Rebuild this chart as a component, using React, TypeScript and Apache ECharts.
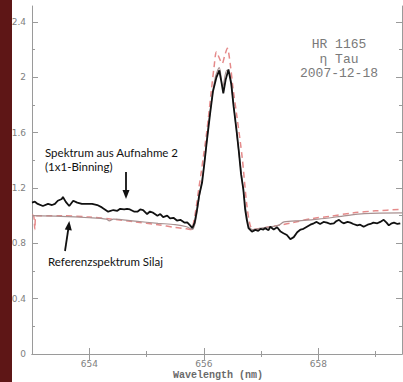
import React, { useEffect, useRef } from "react";
import * as echarts from "echarts";

// Observed spectrum (Spektrum aus Aufnahme 2)
const obsWavelength = [
  653.0, 653.05, 653.1, 653.19, 653.28, 653.35, 653.4, 653.45, 653.52, 653.54, 653.59, 653.65, 653.72, 653.79,
  653.87, 653.96, 654.05, 654.14, 654.22, 654.33, 654.42, 654.49, 654.54, 654.61, 654.66, 654.71, 654.78, 654.84,
  654.89, 654.94, 655.01, 655.06, 655.12, 655.19, 655.24, 655.29, 655.36, 655.41, 655.47, 655.53, 655.59, 655.66,
  655.71, 655.76, 655.8, 655.84, 655.88, 655.92, 655.97, 656.01, 656.05, 656.11, 656.16, 656.22, 656.27, 656.31,
  656.34, 656.38, 656.43, 656.48, 656.52, 656.57, 656.61, 656.65, 656.69, 656.72, 656.75, 656.78, 656.84, 656.9,
  656.95, 656.99, 657.04, 657.07, 657.13, 657.16, 657.22, 657.28, 657.34, 657.39, 657.45, 657.51, 657.57, 657.63,
  657.69, 657.74, 657.8, 657.86, 657.92, 657.97, 658.03, 658.09, 658.15, 658.21, 658.27, 658.31, 658.36, 658.4,
  658.44, 658.51, 658.56, 658.61, 658.68, 658.73, 658.79, 658.86, 658.91, 658.96, 659.03, 659.08, 659.14, 659.19,
  659.23, 659.28, 659.32, 659.38, 659.43,
];
const obsFlux = [
  1.094, 1.101, 1.085, 1.07, 1.085, 1.077, 1.085, 1.108, 1.121, 1.135, 1.1, 1.07, 1.108, 1.094,
  1.085, 1.085, 1.085, 1.077, 1.06, 1.029, 1.041, 1.035, 1.05, 1.045, 1.05, 1.045, 1.03, 1.029,
  1.045, 1.041, 1.012, 1.03, 1.02, 1.0, 1.012, 0.99, 1.0, 0.98, 0.985, 0.965, 0.97, 0.95,
  0.952, 0.93, 0.91, 0.95, 1.04, 1.15, 1.24, 1.38, 1.53, 1.74, 1.9, 2.0, 2.05, 1.96,
  1.885, 1.98, 2.057, 1.95, 1.79, 1.62, 1.47, 1.3, 1.19, 1.05, 0.97, 0.91, 0.885, 0.897,
  0.89, 0.905, 0.9, 0.91, 0.895, 0.92, 0.9, 0.916, 0.885, 0.873, 0.86, 0.83, 0.845, 0.88,
  0.9, 0.905, 0.92, 0.935, 0.945, 0.955, 0.94, 0.955, 0.95, 0.94, 0.945, 0.96, 0.97, 0.955,
  0.945, 0.955, 0.95, 0.94, 0.93, 0.935, 0.92, 0.935, 0.94, 0.95, 0.945, 0.955, 0.97, 0.95,
  0.93, 0.945, 0.95, 0.94, 0.945,
];

// Reference spectrum (Referenzspektrum Silaj), dashed
const refWavelength = [
  653.0, 653.03, 653.05, 653.07, 653.5, 654.0, 654.4, 654.8, 655.2, 655.5, 655.7, 655.78, 655.83, 655.87,
  655.91, 655.95, 655.99, 656.04, 656.08, 656.13, 656.18, 656.22, 656.27, 656.32, 656.36, 656.41, 656.46,
  656.51, 656.58, 656.67, 656.75, 656.81, 656.87, 656.95, 657.3, 657.5, 657.9, 658.2, 658.6, 659.0, 659.46,
];
const refFlux = [
  1.005, 1.0, 0.9, 1.0, 1.0, 0.99, 0.975, 0.955, 0.935, 0.915, 0.905, 0.9, 0.97, 1.07,
  1.19, 1.3, 1.42, 1.57, 1.71, 1.9, 2.08, 2.186, 2.14, 2.1, 2.15, 2.21, 2.1,
  1.92, 1.71, 1.42, 1.08, 0.93, 0.9, 0.905, 0.93, 0.945, 0.98, 0.995, 1.02, 1.035, 1.046,
];

// Smoothed reference (solid grey)
const smoothWavelength = [
  653.0, 653.5, 654.0, 654.3, 654.35, 654.42, 654.8, 655.2, 655.5, 655.7, 655.8, 655.85, 655.9, 656.0,
  656.1, 656.2, 656.27, 656.33, 656.4, 656.45, 656.52, 656.6, 656.7, 656.78, 656.85, 657.0, 657.3, 657.4,
  657.7, 658.0, 658.4, 658.8, 659.46,
];
const smoothFlux = [
  1.0, 0.995, 0.985, 0.975, 0.962, 0.975, 0.96, 0.945, 0.935, 0.92, 0.9, 0.95, 1.08, 1.35,
  1.72, 2.0, 2.07, 1.93, 2.05, 2.03, 1.8, 1.5, 1.15, 0.93, 0.9, 0.91, 0.93, 0.955,
  0.964, 0.975, 0.995, 1.015, 1.02,
];

const xMajor = [654, 656, 658];
const xMinor = [655, 657, 659];
const yMajor = [0, 0.4, 0.8, 1.2, 1.6, 2, 2.4];
const yMinor = [0.2, 0.6, 1.0, 1.4, 1.8, 2.2];

const zip = (a: number[], b: number[]) => a.map((v, i) => [v, b[i]]);

const AXIS_COLOR = "#9a9a9a";

export default function App() {
  const ref = useRef<HTMLDivElement>(null);
  useEffect(() => {
    const chart = echarts.init(ref.current!, null, { renderer: "svg" });
    const xBase = { type: "value", min: 653, max: 659.46, splitLine: { show: false } };
    const yBase = { type: "value", min: 0, max: 2.516, splitLine: { show: false } };
    const line = { show: true, lineStyle: { color: AXIS_COLOR, width: 1 } };
    const tick = (vals: number[], len: number) => ({
      show: true,
      inside: true,
      length: len,
      customValues: vals,
      lineStyle: { color: AXIS_COLOR, width: 1 },
    });
    const lbl = (vals: number[], margin: number) => ({
      show: true,
      customValues: vals,
      margin,
      color: "#808080",
      fontSize: 9,
      fontFamily: "DejaVu Sans",
    });
    chart.setOption({
      animation: false,
      backgroundColor: "#ffffff",
      grid: { left: 32, top: 6, width: 370, height: 348, containLabel: false },
      xAxis: [
        { ...xBase, position: "bottom", axisLine: line, axisTick: tick(xMajor, 6), axisLabel: lbl(xMajor, 5) },
        { ...xBase, position: "bottom", axisLine: { show: false }, axisTick: tick(xMinor, 3), axisLabel: { show: false } },
        { ...xBase, position: "top", axisLine: line, axisTick: tick(xMajor, 6), axisLabel: { show: false } },
        { ...xBase, position: "top", axisLine: { show: false }, axisTick: tick(xMinor, 3), axisLabel: { show: false } },
      ],
      yAxis: [
        { ...yBase, position: "left", axisLine: line, axisTick: tick(yMajor, 6), axisLabel: lbl(yMajor, 6) },
        { ...yBase, position: "left", axisLine: { show: false }, axisTick: tick(yMinor, 3), axisLabel: { show: false } },
        { ...yBase, position: "right", axisLine: line, axisTick: tick(yMajor, 6), axisLabel: { show: false } },
        { ...yBase, position: "right", axisLine: { show: false }, axisTick: tick(yMinor, 3), axisLabel: { show: false } },
      ],
      series: [
        {
          type: "line",
          name: "Referenz",
          xAxisIndex: 0,
          yAxisIndex: 0,
          data: zip(refWavelength, refFlux),
          showSymbol: false,
          smooth: 0.3,
          lineStyle: { color: "#e58a8a", width: 1.5, type: [6, 4] },
          z: 2,
        },
        {
          type: "line",
          name: "Referenz geglättet",
          xAxisIndex: 0,
          yAxisIndex: 0,
          data: zip(smoothWavelength, smoothFlux),
          showSymbol: false,
          smooth: 0.3,
          lineStyle: { color: "#a89090", width: 1.2 },
          z: 3,
        },
        {
          type: "line",
          name: "Spektrum",
          xAxisIndex: 0,
          yAxisIndex: 0,
          data: zip(obsWavelength, obsFlux),
          showSymbol: false,
          lineStyle: { color: "#111111", width: 1.8 },
          z: 4,
        },
      ],
      graphic: [
        { type: "rect", left: 0, top: 0, shape: { width: 12, height: 382 }, style: { fill: "#5e1616" }, z: 100 },
        {
          type: "text",
          x: 339,
          y: 44,
          style: { text: "HR 1165", fill: "#7a7a7a", font: "13px 'Liberation Mono'", align: "center", verticalAlign: "middle" },
        },
        {
          type: "text",
          x: 339,
          y: 59,
          style: { text: "η Tau", fill: "#7a7a7a", font: "13px 'Liberation Mono'", align: "center", verticalAlign: "middle" },
        },
        {
          type: "text",
          x: 339,
          y: 73,
          style: { text: "2007-12-18", fill: "#7a7a7a", font: "13px 'Liberation Mono'", align: "center", verticalAlign: "middle" },
        },
        {
          type: "text",
          x: 218,
          y: 375,
          style: { text: "Wavelength (nm)", fill: "#6a6a6a", font: "bold 10px 'Liberation Mono'", align: "center", verticalAlign: "middle" },
        },
        {
          type: "text",
          x: 45,
          y: 152,
          style: { text: "Spektrum aus Aufnahme 2", fill: "#111", font: "11.5px Lato", align: "left", verticalAlign: "middle" },
        },
        {
          type: "text",
          x: 45,
          y: 166,
          style: { text: "(1x1-Binning)", fill: "#111", font: "11.5px Lato", align: "left", verticalAlign: "middle" },
        },
        {
          type: "text",
          x: 48,
          y: 261,
          style: { text: "Referenzspektrum Silaj", fill: "#111", font: "11.5px Lato", align: "left", verticalAlign: "middle" },
        },
        { type: "line", shape: { x1: 126, y1: 172, x2: 126, y2: 192 }, style: { stroke: "#111", lineWidth: 1.8 } },
        { type: "polygon", shape: { points: [[122.5, 190], [129.5, 190], [126, 199]] }, style: { fill: "#111" } },
        { type: "line", shape: { x1: 65, y1: 251, x2: 68.3, y2: 229 }, style: { stroke: "#111", lineWidth: 1.8 } },
        { type: "polygon", shape: { points: [[64.8, 229.5], [71.8, 230.5], [69.3, 221]] }, style: { fill: "#111" } },
      ],
    });
    return () => chart.dispose();
  }, []);
  return (
    <div style={{ position: "absolute", left: 0, top: 0, width: 403, height: 382, background: "#fff" }}>
      <div ref={ref} style={{ width: 403, height: 382 }} />
    </div>
  );
}
